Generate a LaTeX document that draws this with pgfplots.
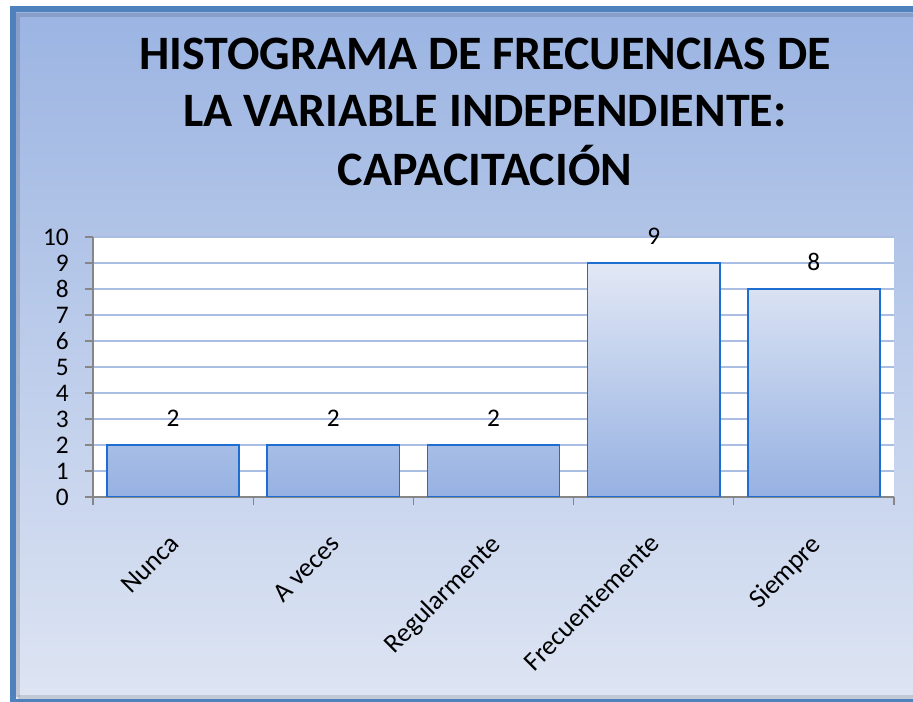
\documentclass[border=0pt]{standalone}
\usepackage{pgfplots}
\pgfplotsset{compat=1.18}
\usepackage{fontspec}
\setmainfont{Carlito}
\definecolor{bgtop}{RGB}{155,180,226}
\definecolor{bgbot}{RGB}{222,229,243}
\definecolor{frameblue}{RGB}{79,129,189}
\definecolor{gridblue}{RGB}{170,190,228}
\definecolor{axisgray}{RGB}{134,134,134}
\definecolor{barline}{RGB}{30,110,210}
\definecolor{bartop}{RGB}{226,232,245}
\definecolor{barbot}{RGB}{150,177,226}
\begin{document}
\begin{tikzpicture}[x=0.75pt,y=0.75pt]
\useasboundingbox (0,0) rectangle (913,702);
\fill[white] (0,0) rectangle (913,702);
\shade[top color=bgtop, bottom color=bgbot] (12.5,0) rectangle (913,693);
\draw[black, opacity=0.12, line width=3pt] (18,5) -- (18,687) -- (913,687);
\draw[black, opacity=0.12, line width=3pt] (18,5) -- (913,5);
\draw[frameblue, line width=4.5pt] (12.5,0) rectangle (925,693);
\node[anchor=base, font=\fontsize{36}{43}\selectfont\bfseries] at (485,632) {HISTOGRAMA DE FRECUENCIAS DE};
\node[anchor=base, font=\fontsize{36}{43}\selectfont\bfseries] at (485,575) {LA VARIABLE INDEPENDIENTE:};
\node[anchor=base, font=\fontsize{36}{43}\selectfont\bfseries] at (485,516) {CAPACITACIÓN};
\begin{axis}[
  at={(69.75pt,153.75pt)}, anchor=south west,
  scale only axis, width=600.75pt, height=195pt,
  xmin=-0.5, xmax=4.5, ymin=0, ymax=10,
  axis x line*=bottom, axis y line*=left,
  axis line style={axisgray, line width=1pt},
  axis background/.style={fill=white},
  /pgf/number format/assume math mode=true,
  ytick={0,1,...,10}, ymajorgrids,
  major grid style={gridblue, line width=2pt},
  tick align=outside,
  major tick length=6pt, minor tick length=6pt,
  y tick style={axisgray, line width=0.9pt},
  xtick={0,1,2,3,4},
  xticklabels={Nunca, A veces, Regularmente, Frecuentemente, Siempre},
  major x tick style={draw=none},
  minor xtick={-0.5,0.5,1.5,2.5,3.5,4.5},
  minor x tick style={axisgray, line width=0.9pt},
  yticklabel style={font=\fontsize{19}{22}\selectfont, black, anchor=east, inner sep=0pt, xshift=-12pt},
  xticklabel style={font=\fontsize{20}{24}\selectfont, black, xshift=-3.5pt, yshift=-21pt, rotate=45, anchor=north east, inner sep=0pt},
]
\addplot[ybar, bar width=0.825, draw=barline, line width=1.3pt,
  top color=bartop, bottom color=barbot,
  nodes near coords,
  nodes near coords style={font=\fontsize{19}{22}\selectfont, text=black, anchor=base, yshift=14pt, inner sep=0pt}]
  coordinates {(0,2) (1,2) (2,2) (3,9) (4,8)};
\end{axis}
\end{tikzpicture}
\end{document}
